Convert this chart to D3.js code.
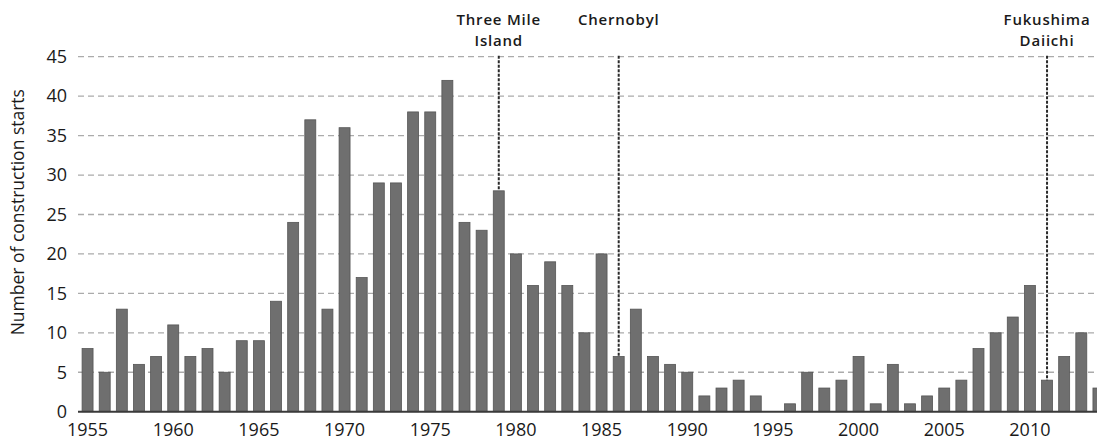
<!DOCTYPE html>
<html>
<head>
<meta charset="utf-8">
<script src="https://cdn.jsdelivr.net/npm/d3@7"></script>
<style>
  html, body { margin: 0; padding: 0; background: #fff; }
  svg { display: block; font-family: 'Open Sans', sans-serif; }
</style>
</head>
<body>
<div id="chart"></div>
<script>
'use strict';

// construction starts per year
var years = d3.range(1955, 2015);
var starts = [
  8, 5, 13, 6, 7, 11, 7, 8, 5, 9,        // 1955-1964
  9, 14, 24, 37, 13, 36, 17, 29, 29, 38,  // 1965-1974
  38, 42, 24, 23, 28, 20, 16, 19, 16, 10, // 1975-1984
  20, 7, 13, 7, 6, 5, 2, 3, 4, 2,         // 1985-1994
  0, 1, 5, 3, 4, 7, 1, 6, 1, 2,           // 1995-2004
  3, 4, 8, 10, 12, 16, 4, 7, 10, 3        // 2005-2014
];
var yTicks = [0, 5, 10, 15, 20, 25, 30, 35, 40, 45];
var xTicks = [1955, 1960, 1965, 1970, 1975, 1980, 1985, 1990, 1995, 2000, 2005, 2010];
var eventYears = [1979, 1986, 2011];
var eventLabels = [['Three Mile', 'Island'], ['Chernobyl'], ['Fukushima', 'Daiichi']];
var yTitle = 'Number of construction starts';

var width = 1097;
var height = 441;

var data = years.map(function(y, i) {
  return { year: y, value: starts[i] };
});

var svg = d3.select('#chart')
  .append('svg')
  .attr('width', width)
  .attr('height', height);

// setup scales
var x = d3.scaleBand()
  .domain(years)
  .range([79, 1107])
  .paddingInner(0.36)
  .paddingOuter(0.18);

var y = d3.scaleLinear()
  .domain([0, 45])
  .range([411.7, 56.7]);

// dashed gridlines
svg.append('g')
  .selectAll('line')
  .data(yTicks.filter(function(d) { return d > 0; }))
  .enter()
  .append('line')
  .attr('x1', 78)
  .attr('x2', width)
  .attr('y1', function(d) { return y(d); })
  .attr('y2', function(d) { return y(d); })
  .attr('stroke', '#ababab')
  .attr('stroke-width', 1.3)
  .attr('stroke-dasharray', '6,4');

// y axis labels, no axis line
var yAxis = svg.append('g')
  .attr('transform', 'translate(70,0)')
  .call(d3.axisLeft(y).tickValues(yTicks).tickSize(0).tickPadding(3));
yAxis.select('.domain').remove();
yAxis.selectAll('text')
  .attr('font-size', 18)
  .attr('font-family', "'Open Sans', sans-serif")
  .attr('fill', '#1a1a1a');

// bars
svg.append('g')
  .selectAll('rect')
  .data(data)
  .enter()
  .append('rect')
  .attr('x', function(d) { return x(d.year); })
  .attr('width', x.bandwidth())
  .attr('y', function(d) { return y(d.value); })
  .attr('height', function(d) { return y(0) - y(d.value); })
  .attr('fill', '#6f6f6f')
  .attr('stroke', '#555')
  .attr('stroke-width', 0.8);

// x axis baseline and year labels
var xAxis = svg.append('g')
  .attr('transform', 'translate(0,' + y(0) + ')')
  .call(d3.axisBottom(x).tickValues(xTicks).tickSize(0).tickPadding(12));
xAxis.select('.domain')
  .attr('stroke', '#3a3a3a')
  .attr('stroke-width', 2)
  .attr('d', 'M78,0H' + width);
xAxis.selectAll('text')
  .attr('font-size', 18)
  .attr('font-family', "'Open Sans', sans-serif")
  .attr('fill', '#1a1a1a');

// y axis title
svg.append('text')
  .attr('transform', 'translate(24,' + ((y(0) + y(45)) / 2 - 22) + ') rotate(-90)')
  .attr('text-anchor', 'middle')
  .attr('font-size', 17.5)
  .attr('fill', '#1a1a1a')
  .text(yTitle);

// accident markers
var events = eventYears.map(function(yr, i) {
  return { year: yr, lines: eventLabels[i], value: starts[years.indexOf(yr)] };
});

var ev = svg.append('g')
  .selectAll('g')
  .data(events)
  .enter()
  .append('g');

ev.append('line')
  .attr('x1', function(d) { return x(d.year) + x.bandwidth() / 2; })
  .attr('x2', function(d) { return x(d.year) + x.bandwidth() / 2; })
  .attr('y1', y(45) - 1)
  .attr('y2', function(d) { return y(d.value); })
  .attr('stroke', '#2a2a2a')
  .attr('stroke-width', 2)
  .attr('stroke-dasharray', '3,1.5');

// one text per label line so the two lines never share a box
ev.each(function(d) {
  var g = d3.select(this);
  d.lines.forEach(function(line, i) {
    g.append('text')
      .attr('x', x(d.year) + x.bandwidth() / 2)
      .attr('y', 25 + i * 20.5)
      .attr('text-anchor', 'middle')
      .attr('font-size', 15)
      .attr('font-weight', 600)
      .attr('letter-spacing', 0.8)
      .attr('fill', '#1a1a1a')
      .text(line);
  });
});
</script>
</body>
</html>
